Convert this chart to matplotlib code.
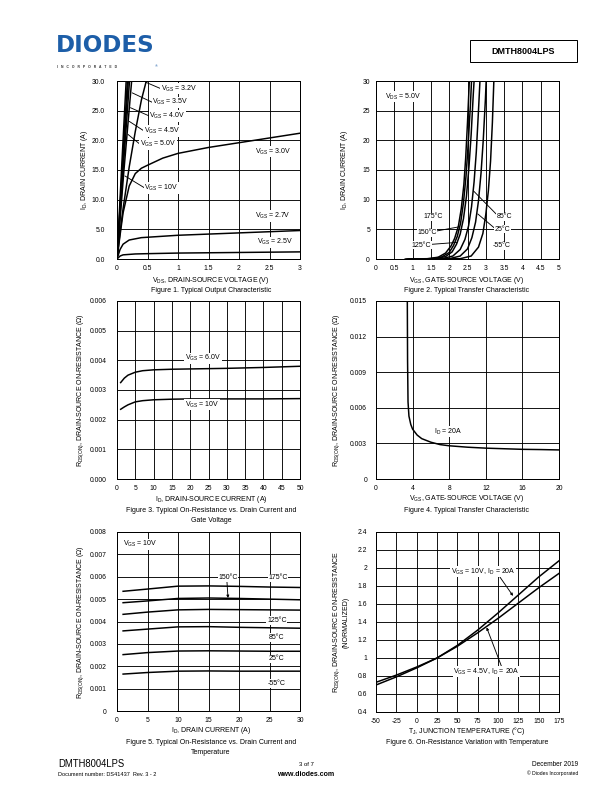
import matplotlib
matplotlib.use("Agg")
import matplotlib.pyplot as plt
from matplotlib.patches import Rectangle

plt.rcParams['font.family'] = ['Liberation Sans', 'DejaVu Sans']
plt.rcParams['mathtext.fontset'] = 'custom'
plt.rcParams['mathtext.rm'] = 'Liberation Sans'
plt.rcParams['mathtext.it'] = 'Liberation Sans'
plt.rcParams['mathtext.default'] = 'rm'

W, H = 612, 792

# ---- Figure 1: output characteristic (VDS, ID) ----
f1_vgs10 = ([0, 0.075, 0.15], [0, 15.2, 30])
f1_vgs50 = ([0, 0.085, 0.17], [0, 15, 30])
f1_vgs45 = ([0, 0.09, 0.185], [0, 15, 30])
f1_vgs40 = ([0, 0.10, 0.205], [0, 15, 30])
f1_vgs35 = ([0, 0.11, 0.24], [0, 14.5, 30])
f1_vgs32 = ([0, 0.05, 0.1, 0.2, 0.3, 0.4, 0.48], [0, 4.5, 8.5, 15.5, 21.5, 26.8, 30])
f1_vgs30 = ([0, 0.05, 0.1, 0.2, 0.3, 0.4, 0.5, 0.75, 1.0, 1.5, 2.0, 2.5, 3.0],
            [0, 4.0, 7.8, 12.3, 14.4, 15.3, 15.8, 17.0, 17.8, 18.8, 19.6, 20.4, 21.2])
f1_vgs27 = ([0, 0.05, 0.1, 0.2, 0.4, 0.7, 1.0, 1.5, 2.0, 2.5, 3.0],
            [0, 1.6, 2.5, 3.2, 3.6, 3.8, 4.0, 4.2, 4.4, 4.6, 4.8])
f1_vgs25 = ([0, 0.05, 0.1, 0.3, 0.5, 1.0, 2.0, 3.0],
            [0, 0.5, 0.7, 0.85, 0.9, 1.0, 1.1, 1.2])

# ---- Figure 2: transfer characteristic (VGS, ID) ----
f2_t175 = ([0.8, 1.4, 1.7, 1.9, 2.05, 2.15, 2.25, 2.33, 2.4, 2.45, 2.5, 2.55],
           [0, 0.05, 0.3, 1.0, 2.2, 3.5, 5.5, 8.5, 12.5, 17, 23, 30])
f2_t150 = ([0.85, 1.5, 1.8, 2.0, 2.12, 2.22, 2.31, 2.39, 2.46, 2.52, 2.58, 2.61],
           [0, 0.05, 0.35, 1.1, 2.3, 3.8, 6.0, 9.5, 14, 19.5, 26, 30])
f2_t125 = ([0.9, 1.6, 1.9, 2.08, 2.2, 2.3, 2.39, 2.47, 2.54, 2.6, 2.66, 2.68],
           [0, 0.05, 0.4, 1.2, 2.5, 4.2, 6.8, 10.5, 15.5, 21, 28, 30])
f2_t85 = ([1.0, 1.8, 2.1, 2.3, 2.43, 2.53, 2.61, 2.68, 2.74, 2.8, 2.84],
          [0, 0.05, 0.5, 1.6, 3.3, 5.6, 8.8, 13, 18, 25, 30])
f2_t25 = ([1.2, 2.0, 2.3, 2.5, 2.62, 2.72, 2.8, 2.87, 2.93, 2.99, 3.01],
          [0, 0.05, 0.5, 1.7, 3.6, 6.2, 9.8, 14.5, 20, 27, 30])
f2_tm55 = ([1.5, 2.3, 2.6, 2.8, 2.92, 3.0, 3.07, 3.13, 3.18, 3.22],
           [0, 0.05, 0.5, 2.0, 4.3, 7.5, 11.5, 16.5, 23, 30])

# ---- Figure 3: RDS(on) vs ID ----
f3_id = [1, 2, 3, 5, 7, 10, 15, 20, 30, 40, 50]
f3_vgs60 = [0.00325, 0.00340, 0.00350, 0.00360, 0.00365, 0.00368, 0.00370, 0.00371, 0.00373, 0.00376, 0.00380]
f3_vgs10 = [0.00235, 0.00243, 0.00250, 0.00260, 0.00264, 0.00267, 0.00269, 0.00270, 0.00270, 0.00270, 0.00271]

# ---- Figure 4: RDS(on) vs VGS ----
f4_vgs = [3.42, 3.45, 3.5, 3.6, 3.8, 4.0, 4.5, 5, 6, 7, 8, 10, 12, 14, 16, 18, 20]
f4_rds = [0.0155, 0.0100, 0.0065, 0.0053, 0.0046, 0.0042, 0.0037, 0.0034, 0.0031, 0.0029,
          0.0028, 0.00268, 0.0026, 0.00255, 0.0025, 0.00248, 0.00245]

# ---- Figure 5: RDS(on) vs ID and temperature ----
f5_id = [1, 5, 10, 15, 20, 25, 30]
f5_t175 = [0.00535, 0.00545, 0.00558, 0.00559, 0.00557, 0.00554, 0.00552]
f5_t150 = [0.00484, 0.00492, 0.00503, 0.00505, 0.00503, 0.00500, 0.00497]
f5_t125 = [0.00432, 0.00442, 0.00452, 0.00454, 0.00453, 0.00452, 0.00451]
f5_t85 = [0.00358, 0.00366, 0.00376, 0.00377, 0.00374, 0.00372, 0.00370]
f5_t25 = [0.00252, 0.00261, 0.00268, 0.00269, 0.00268, 0.00267, 0.00267]
f5_tm55 = [0.00165, 0.00172, 0.00178, 0.00179, 0.00178, 0.00178, 0.00178]

# ---- Figure 6: normalized RDS(on) vs TJ ----
f6_tj = [-50, -25, 0, 25, 50, 75, 100, 125, 150, 175]
f6_vgs10 = [0.70, 0.79, 0.89, 1.00, 1.14, 1.31, 1.50, 1.70, 1.90, 2.08]
f6_vgs45 = [0.73, 0.81, 0.90, 1.00, 1.13, 1.28, 1.44, 1.61, 1.78, 1.94]


def px(x, y):
    return x / W, 1 - y / H


def make_axes(fig, x0, y0, x1, y1):
    return fig.add_axes([x0 / W, 1 - y1 / H, (x1 - x0) / W, (y1 - y0) / H])


def style(ax, xlim, ylim, xticks, yticks, xlabels, ylabels, ypad):
    ax.set_xlim(xlim)
    ax.set_ylim(ylim)
    ax.set_xticks(xticks)
    ax.set_yticks(yticks)
    ax.set_xticklabels(xlabels)
    ax.set_yticklabels(ylabels)
    ax.grid(True, color='black', linewidth=0.9)
    ax.set_axisbelow(True)
    ax.tick_params(length=0, labelsize=6.8)
    ax.tick_params(axis='x', pad=6)
    ax.tick_params(axis='y', pad=ypad)
    for s in ax.spines.values():
        s.set_linewidth(1.0)


def label(ax, x, y, s, ha='left'):
    ax.text(x, y, s, fontsize=7, ha=ha, va='center', zorder=6,
            bbox=dict(facecolor='white', edgecolor='none', pad=0.6))


def pointer(ax, xy, xytext, head=False):
    style_ = '-|>' if head else '-'
    ax.annotate('', xy=xy, xytext=xytext, zorder=5,
                arrowprops=dict(arrowstyle=style_, color='black', lw=0.9,
                                mutation_scale=5, shrinkA=0, shrinkB=0))


fig = plt.figure(figsize=(W / 72, H / 72), dpi=72)
lw = 1.5

# ---------------- Figure 1 ----------------
ax1 = make_axes(fig, 117, 81, 300, 259)
for c in [f1_vgs10, f1_vgs50, f1_vgs45, f1_vgs40, f1_vgs35, f1_vgs32, f1_vgs30, f1_vgs27, f1_vgs25]:
    ax1.plot(c[0], c[1], color='black', lw=lw)
style(ax1, (0, 3), (0, 30), [0, 0.5, 1, 1.5, 2, 2.5, 3], range(0, 31, 5),
      ['0', '0.5', '1', '1.5', '2', '2.5', '3'], ['%.1f' % v for v in range(0, 31, 5)], 12)
pointer(ax1, (0.47, 29.8), (0.72, 28.7))
label(ax1, 0.72, 28.7, r'V$_{\rm GS}$ = 3.2V')
pointer(ax1, (0.25, 28.0), (0.58, 26.4))
label(ax1, 0.58, 26.4, r'V$_{\rm GS}$ = 3.5V')
pointer(ax1, (0.22, 25.5), (0.53, 24.1))
label(ax1, 0.53, 24.1, r'V$_{\rm GS}$ = 4.0V')
pointer(ax1, (0.20, 23.2), (0.44, 21.6))
label(ax1, 0.44, 21.6, r'V$_{\rm GS}$ = 4.5V')
pointer(ax1, (0.18, 21.0), (0.37, 19.4))
label(ax1, 0.37, 19.4, r'V$_{\rm GS}$ = 5.0V')
pointer(ax1, (0.13, 14.0), (0.45, 12.0))
label(ax1, 0.45, 12.0, r'V$_{\rm GS}$ = 10V')
label(ax1, 2.26, 18.1, r'V$_{\rm GS}$ = 3.0V')
label(ax1, 2.26, 7.25, r'V$_{\rm GS}$ = 2.7V')
label(ax1, 2.30, 2.8, r'V$_{\rm GS}$ = 2.5V')

# ---------------- Figure 2 ----------------
ax2 = make_axes(fig, 376, 81, 559, 259)
for c in [f2_t175, f2_t150, f2_t125, f2_t85, f2_t25, f2_tm55]:
    ax2.plot(c[0], c[1], color='black', lw=lw)
xt2 = [0, 0.5, 1, 1.5, 2, 2.5, 3, 3.5, 4, 4.5, 5]
style(ax2, (0, 5), (0, 30), xt2, range(0, 31, 5),
      ['%g' % v for v in xt2], [str(v) for v in range(0, 31, 5)], 6)
label(ax2, 0.25, 27.4, r'V$_{\rm DS}$ = 5.0V')
label(ax2, 1.30, 7.1, '175°C')
pointer(ax2, (2.25, 5.4), (1.55, 4.6))
label(ax2, 1.13, 4.4, '150°C')
pointer(ax2, (2.22, 2.8), (1.36, 2.4))
label(ax2, 0.98, 2.35, '125°C')
pointer(ax2, (2.66, 11.5), (3.28, 7.6))
label(ax2, 3.30, 7.1, '85°C')
pointer(ax2, (2.78, 7.6), (3.22, 5.3))
label(ax2, 3.25, 5.0, '25°C')
label(ax2, 3.20, 2.2, '-55°C')

# ---------------- Figure 3 ----------------
ax3 = make_axes(fig, 117, 301, 300, 479)
ax3.plot(f3_id, f3_vgs60, color='black', lw=lw)
ax3.plot(f3_id, f3_vgs10, color='black', lw=lw)
xt3 = list(range(0, 51, 5))
yt3 = [0, 0.001, 0.002, 0.003, 0.004, 0.005, 0.006]
style(ax3, (0, 50), (0, 0.006), xt3, yt3, [str(v) for v in xt3], ['%.3f' % v for v in yt3], 10)
label(ax3, 23.5, 0.00407, r'V$_{\rm GS}$ = 6.0V', ha='center')
label(ax3, 23.2, 0.00251, r'V$_{\rm GS}$ = 10V', ha='center')

# ---------------- Figure 4 ----------------
ax4 = make_axes(fig, 376, 301, 559, 479)
ax4.plot(f4_vgs, f4_rds, color='black', lw=lw)
xt4 = [0, 4, 8, 12, 16, 20]
yt4 = [0, 0.003, 0.006, 0.009, 0.012, 0.015]
style(ax4, (0, 20), (0, 0.015), xt4, yt4, [str(v) for v in xt4],
      ['0', '0.003', '0.006', '0.009', '0.012', '0.015'], 9)
label(ax4, 7.9, 0.0040, r'I$_{\rm D}$ = 20A', ha='center')

# ---------------- Figure 5 ----------------
ax5 = make_axes(fig, 117, 532, 300, 711)
for c in [f5_t175, f5_t150, f5_t125, f5_t85, f5_t25, f5_tm55]:
    ax5.plot(f5_id, c, color='black', lw=lw)
xt5 = list(range(0, 31, 5))
yt5 = [0, 0.001, 0.002, 0.003, 0.004, 0.005, 0.006, 0.007, 0.008]
style(ax5, (0, 30), (0, 0.008), xt5, yt5, [str(v) for v in xt5],
      ['0'] + ['%.3f' % v for v in yt5[1:]], 10)
label(ax5, 1.0, 0.00745, r'V$_{\rm GS}$ = 10V')
pointer(ax5, (18.2, 0.00505), (18.0, 0.00588), head=True)
label(ax5, 18.2, 0.00597, '150°C', ha='center')
label(ax5, 26.4, 0.00595, '175°C', ha='center')
label(ax5, 26.2, 0.00405, '125°C', ha='center')
label(ax5, 26.2, 0.00328, '85°C', ha='center')
label(ax5, 26.2, 0.00234, '25°C', ha='center')
label(ax5, 26.2, 0.00123, '-55°C', ha='center')

# ---------------- Figure 6 ----------------
ax6 = make_axes(fig, 376, 532, 559, 712)
ax6.plot(f6_tj, f6_vgs10, color='black', lw=lw)
ax6.plot(f6_tj, f6_vgs45, color='black', lw=lw)
xt6 = list(range(-50, 176, 25))
yt6 = [0.4, 0.6, 0.8, 1.0, 1.2, 1.4, 1.6, 1.8, 2.0, 2.2, 2.4]
style(ax6, (-50, 175), (0.4, 2.4), xt6, yt6, [str(v) for v in xt6], ['%g' % v for v in yt6], 9)
pointer(ax6, (118.5, 1.69), (100, 1.93), head=True)
label(ax6, 81.7, 1.96, r'V$_{\rm GS}$ = 10V, I$_{\rm D}$ = 20A', ha='center')
pointer(ax6, (86, 1.34), (105, 0.89), head=True)
label(ax6, 85.8, 0.85, r'V$_{\rm GS}$ = 4.5V, I$_{\rm D}$ = 20A', ha='center')

# ---------------- axis titles and captions ----------------
fs = 7
texts = [
    (211, 280, r'V$_{\rm DS}$, DRAIN-SOURCE VOLTAGE (V)'),
    (211, 291, 'Figure 1. Typical Output Characteristic'),
    (467, 280, r'V$_{\rm GS}$, GATE-SOURCE VOLTAGE (V)'),
    (467, 291, 'Figure 2. Typical Transfer Characteristic'),
    (211, 500, r'I$_{\rm D}$, DRAIN-SOURCE CURRENT (A)'),
    (211, 511, 'Figure 3. Typical On-Resistance vs. Drain Current and'),
    (211, 521, 'Gate Voltage'),
    (467, 498, r'V$_{\rm GS}$, GATE-SOURCE VOLTAGE (V)'),
    (467, 510, 'Figure 4. Typical Transfer Characteristic'),
    (211, 731, r'I$_{\rm D}$, DRAIN CURRENT (A)'),
    (211, 743, 'Figure 5. Typical On-Resistance vs. Drain Current and'),
    (211, 753, 'Temperature'),
    (467, 731, r'T$_{\rm J}$, JUNCTION TEMPERATURE (°C)'),
    (467, 743, 'Figure 6. On-Resistance Variation with Temperature'),
]
for x, y, s in texts:
    fig.text(*px(x, y), s, fontsize=fs, ha='center', va='center')

ylabels = [
    (84, 170, r'I$_{\rm D}$, DRAIN CURRENT (A)'),
    (345, 170, r'I$_{\rm D}$, DRAIN CURRENT (A)'),
    (81, 390, r'R$_{\rm DS(ON)}$, DRAIN-SOURCE ON-RESISTANCE (Ω)'),
    (337, 390, r'R$_{\rm DS(ON)}$, DRAIN-SOURCE ON-RESISTANCE (Ω)'),
    (81, 622, r'R$_{\rm DS(ON)}$, DRAIN-SOURCE ON-RESISTANCE (Ω)'),
    (337, 622, r'R$_{\rm DS(ON)}$, DRAIN-SOURCE ON-RESISTANCE'),
    (346, 622, '(NORMALIZED)'),
]
for x, y, s in ylabels:
    fig.text(*px(x, y), s, fontsize=fs, ha='center', va='center', rotation=90)

# ---------------- header ----------------
fig.text(*px(56, 45), 'DIODES', fontsize=23, fontweight='bold', color='#1d5ea8',
         family='DejaVu Sans', ha='left', va='center')
fig.text(*px(57, 67), 'I   N   C   O   R   P   O   R   A   T   E   D', fontsize=3.4,
         fontweight='bold', color='#333333', ha='left', va='center')
fig.text(*px(155, 66), '®', fontsize=4, color='#1d5ea8', ha='left', va='center')
x0, y0 = px(470, 62)
fig.patches.append(Rectangle((x0, y0), 107 / W, 22 / H, transform=fig.transFigure,
                             fill=False, edgecolor='black', linewidth=1.0))
fig.text(*px(523.5, 51), 'DMTH8004LPS', fontsize=9, fontweight='bold', ha='center', va='center')

# ---------------- footer ----------------
fig.text(*px(58, 764), 'DMTH8004LPS', fontsize=9.5, ha='left', va='center')
fig.text(*px(58, 774), 'Document number: DS41437  Rev. 3 - 2', fontsize=5.5, ha='left', va='center')
fig.text(*px(306, 764), '3 of 7', fontsize=6, ha='center', va='center')
fig.text(*px(306, 774), 'www.diodes.com', fontsize=7, fontweight='bold', ha='center', va='center')
fig.text(*px(578, 764), 'December 2019', fontsize=6.5, ha='right', va='center')
fig.text(*px(578, 773), '© Diodes Incorporated', fontsize=5, ha='right', va='center')

fig.savefig('out.png', dpi=72)
